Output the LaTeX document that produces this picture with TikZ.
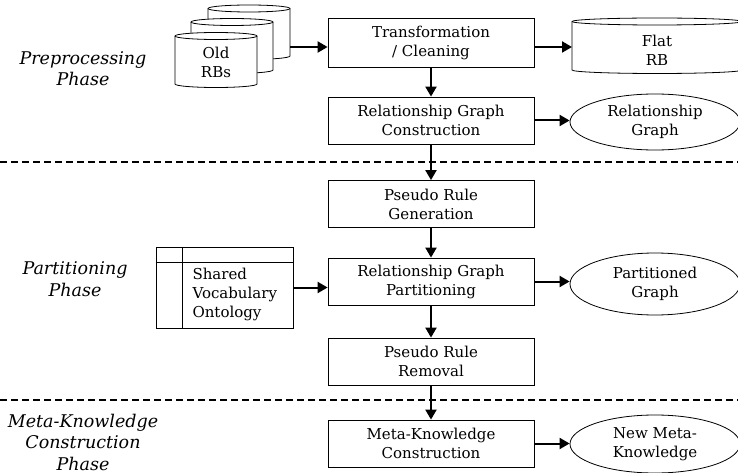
\documentclass[tikz,border=0pt]{standalone}
\usepackage{fontspec}
\setmainfont{DejaVu Serif}
\usetikzlibrary{arrows.meta,shapes.geometric}

% database drum: x-left, x-right, y of top ellipse, y of bottom corners, x radius, y radius
\newcommand{\dbdrum}[6]{%
  \filldraw[thinline,fill=white] (#1,#3) -- (#1,#4)
    arc[start angle=180,end angle=360,x radius=#5pt,y radius=#6pt] -- (#2,#3)
    arc[start angle=0,end angle=180,x radius=#5pt,y radius=#6pt] -- cycle;
  \draw[thinline] (#1,#3) arc[start angle=180,end angle=360,x radius=#5pt,y radius=#6pt];}

\begin{document}
\begin{tikzpicture}[x=1pt,y=-1pt,
  thinline/.style={line width=0.8pt},
  boxfont/.style={font=\fontsize{15}{19}\selectfont},
  stage/.style={draw,thinline,rectangle,minimum width=206pt,minimum height=47pt,
    inner sep=0pt,align=center,boxfont},
  result/.style={draw,thinline,ellipse,minimum width=170pt,minimum height=58pt,
    inner sep=0pt,align=center,boxfont},
  flow/.style={line width=2pt,-{Triangle[length=10pt,width=11pt]}},
  phaseline/.style={line width=2pt,dash pattern=on 7pt off 4pt},
  phase/.style={align=center,font=\itshape\fontsize{17.5}{21.5}\selectfont}]

\clip (0,0) rectangle (738,473);

% phase separators
\draw[phaseline] (0,162) -- (738,162);
\draw[phaseline] (0,400) -- (738,400);

% phase titles
\node[phase] (ph1) at (83,68.5) {Preprocessing\\Phase};
\node[phase] (ph2) at (75,279) {Partitioning\\Phase};
\node[phase] (ph3) at (83,442) {Meta-Knowledge\\Construction\\Phase};

% stack of old rule bases
\dbdrum{208}{290}{8.5}{56}{41}{3.5}
\dbdrum{191}{273}{22}{70}{41}{3.5}
\dbdrum{175}{257}{36}{84}{41}{3.5}
\node[boxfont,align=center] (oldrbs) at (216,62) {Old\\RBs};
\coordinate (dbout) at (290,47);

% flat rule base
\dbdrum{572}{742}{21.5}{70}{85}{3.5}
\node[boxfont,align=center] (flatrb) at (657,50) {Flat\\RB};
\coordinate (flatin) at (572,47);

% processing stages
\node[stage,minimum height=49pt] (trans) at (431,42.5) {Transformation\\/ Cleaning};
\node[stage] (rgc) at (431,120.5) {Relationship Graph\\Construction};
\node[stage] (prg) at (431,204) {Pseudo Rule\\Generation};
\node[stage] (rgp) at (431,281.5) {Relationship Graph\\Partitioning};
\node[stage] (prr) at (431,361.5) {Pseudo Rule\\Removal};
\node[stage] (mkc) at (431,443.5) {Meta-Knowledge\\Construction};

% products
\node[result,minimum height=56pt] (rg) at (655,122) {Relationship\\Graph};
\node[result,minimum height=62pt] (pg) at (655,284) {Partitioned\\Graph};
\node[result] (nmk) at (655,444) {New Meta-\\Knowledge};

% shared vocabulary ontology table
\node[draw,thinline,rectangle,minimum width=137pt,minimum height=81pt,inner sep=0pt] (sv) at (224.5,287.5) {};
\draw[thinline] ([xshift=27pt]sv.north west) -- ([xshift=27pt]sv.south west);
\draw[thinline] ([yshift=-16pt]sv.north west) -- ([yshift=-16pt]sv.north east);
\node[boxfont,align=left,anchor=west] (svtext) at (189,294) {Shared\\Vocabulary\\Ontology};

% connectors
\draw[flow] (dbout) -- (dbout -| trans.west);
\draw[flow] (flatin -| trans.east) -- (flatin);
\draw[flow] (trans) -- (rgc);
\draw[flow] (rgc.east) -- (rgc.east -| rg.west);
\draw[flow] (rgc) -- (prg);
\draw[flow] (prg) -- (rgp);
\draw[flow] (sv.east) -- (sv.east -| rgp.west);
\draw[flow] (rgp.east) -- (rgp.east -| pg.west);
\draw[flow] (rgp) -- (prr);
\draw[flow] (prr) -- (mkc);
\draw[flow] (mkc.east) -- (mkc.east -| nmk.west);
\end{tikzpicture}
\end{document}
